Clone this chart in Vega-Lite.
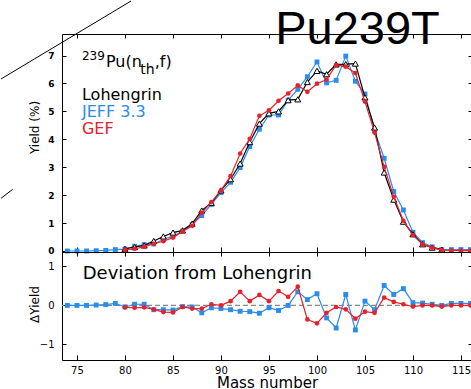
{
  "$schema": "https://vega.github.io/schema/vega-lite/v6.json",
  "padding": 0,
  "spacing": 0,
  "bounds": "flush",
  "config": {
    "font": "DejaVu Sans",
    "view": {"stroke": "black", "strokeWidth": 1},
    "axis": {"grid": false, "domain": false, "tickColor": "black", "tickWidth": 1, "labelColor": "black", "titleColor": "black", "labelFont": "DejaVu Sans", "titleFont": "DejaVu Sans", "titleFontWeight": "normal"}
  },
  "datasets": {
    "one": [{}],
    "lohengrin": [
      {"mass": 80, "y": 0.08}, {"mass": 81, "y": 0.14}, {"mass": 82, "y": 0.20}, {"mass": 83, "y": 0.36},
      {"mass": 84, "y": 0.52}, {"mass": 85, "y": 0.66}, {"mass": 86, "y": 0.74}, {"mass": 87, "y": 0.98},
      {"mass": 88, "y": 1.45}, {"mass": 89, "y": 1.72}, {"mass": 90, "y": 2.17}, {"mass": 91, "y": 2.57},
      {"mass": 92, "y": 3.13}, {"mass": 93, "y": 3.90}, {"mass": 94, "y": 4.56}, {"mass": 95, "y": 4.93},
      {"mass": 96, "y": 5.00}, {"mass": 97, "y": 5.40}, {"mass": 98, "y": 5.43}, {"mass": 99, "y": 6.05},
      {"mass": 100, "y": 6.45}, {"mass": 101, "y": 6.33}, {"mass": 102, "y": 6.68}, {"mass": 103, "y": 6.69},
      {"mass": 104, "y": 6.71}, {"mass": 105, "y": 5.50}, {"mass": 106, "y": 4.42}, {"mass": 107, "y": 2.81},
      {"mass": 108, "y": 1.84}, {"mass": 109, "y": 1.05}, {"mass": 110, "y": 0.60}, {"mass": 111, "y": 0.24},
      {"mass": 112, "y": 0.12}, {"mass": 113, "y": 0.05}
    ],
    "jeff": [
      {"mass": 74, "y": 0.0}, {"mass": 75, "y": 0.0}, {"mass": 76, "y": 0.0}, {"mass": 77, "y": 0.01},
      {"mass": 78, "y": 0.02}, {"mass": 79, "y": 0.05}, {"mass": 80, "y": 0.07}, {"mass": 81, "y": 0.17},
      {"mass": 82, "y": 0.23}, {"mass": 83, "y": 0.25}, {"mass": 84, "y": 0.41}, {"mass": 85, "y": 0.54},
      {"mass": 86, "y": 0.71}, {"mass": 87, "y": 0.95}, {"mass": 88, "y": 1.27}, {"mass": 89, "y": 1.67},
      {"mass": 90, "y": 2.09}, {"mass": 91, "y": 2.46}, {"mass": 92, "y": 2.99}, {"mass": 93, "y": 3.74},
      {"mass": 94, "y": 4.36}, {"mass": 95, "y": 4.87}, {"mass": 96, "y": 4.87}, {"mass": 97, "y": 5.40},
      {"mass": 98, "y": 5.79}, {"mass": 99, "y": 6.24}, {"mass": 100, "y": 6.77}, {"mass": 101, "y": 6.02},
      {"mass": 102, "y": 6.11}, {"mass": 103, "y": 6.98}, {"mass": 104, "y": 6.08}, {"mass": 105, "y": 5.62},
      {"mass": 106, "y": 4.32}, {"mass": 107, "y": 3.32}, {"mass": 108, "y": 2.13}, {"mass": 109, "y": 1.47},
      {"mass": 110, "y": 0.67}, {"mass": 111, "y": 0.30}, {"mass": 112, "y": 0.15}, {"mass": 113, "y": 0.05},
      {"mass": 114, "y": 0.05}, {"mass": 115, "y": 0.05}, {"mass": 116, "y": 0.05}
    ],
    "gef": [
      {"mass": 80, "y": 0.04}, {"mass": 81, "y": 0.08}, {"mass": 82, "y": 0.15}, {"mass": 83, "y": 0.26},
      {"mass": 84, "y": 0.35}, {"mass": 85, "y": 0.48}, {"mass": 86, "y": 0.70}, {"mass": 87, "y": 0.90},
      {"mass": 88, "y": 1.37}, {"mass": 89, "y": 1.75}, {"mass": 90, "y": 2.17}, {"mass": 91, "y": 2.68},
      {"mass": 92, "y": 3.49}, {"mass": 93, "y": 4.02}, {"mass": 94, "y": 4.84}, {"mass": 95, "y": 5.04},
      {"mass": 96, "y": 5.38}, {"mass": 97, "y": 5.64}, {"mass": 98, "y": 5.93}, {"mass": 99, "y": 5.70},
      {"mass": 100, "y": 5.99}, {"mass": 101, "y": 6.14}, {"mass": 102, "y": 6.66}, {"mass": 103, "y": 6.60},
      {"mass": 104, "y": 6.37}, {"mass": 105, "y": 5.35}, {"mass": 106, "y": 4.24}, {"mass": 107, "y": 3.01},
      {"mass": 108, "y": 1.94}, {"mass": 109, "y": 1.08}, {"mass": 110, "y": 0.57}, {"mass": 111, "y": 0.24},
      {"mass": 112, "y": 0.12}, {"mass": 113, "y": 0.03}, {"mass": 114, "y": 0.02}, {"mass": 115, "y": 0.01},
      {"mass": 116, "y": 0.01}
    ],
    "devJeff": [
      {"mass": 74, "d": 0.0}, {"mass": 75, "d": 0.0}, {"mass": 76, "d": 0.0}, {"mass": 77, "d": 0.01},
      {"mass": 78, "d": 0.02}, {"mass": 79, "d": 0.05}, {"mass": 80, "d": -0.04}, {"mass": 81, "d": 0.03},
      {"mass": 82, "d": 0.03}, {"mass": 83, "d": -0.11}, {"mass": 84, "d": -0.11}, {"mass": 85, "d": -0.12},
      {"mass": 86, "d": -0.03}, {"mass": 87, "d": -0.04}, {"mass": 88, "d": -0.19}, {"mass": 89, "d": -0.06},
      {"mass": 90, "d": -0.08}, {"mass": 91, "d": -0.11}, {"mass": 92, "d": -0.15}, {"mass": 93, "d": -0.16},
      {"mass": 94, "d": -0.20}, {"mass": 95, "d": -0.06}, {"mass": 96, "d": -0.13}, {"mass": 97, "d": 0.0},
      {"mass": 98, "d": 0.35}, {"mass": 99, "d": 0.15}, {"mass": 100, "d": 0.30}, {"mass": 101, "d": -0.32},
      {"mass": 102, "d": -0.58}, {"mass": 103, "d": 0.28}, {"mass": 104, "d": -0.63}, {"mass": 105, "d": 0.11},
      {"mass": 106, "d": -0.11}, {"mass": 107, "d": 0.51}, {"mass": 108, "d": 0.28}, {"mass": 109, "d": 0.43},
      {"mass": 110, "d": 0.07}, {"mass": 111, "d": 0.06}, {"mass": 112, "d": 0.03}, {"mass": 113, "d": 0.0},
      {"mass": 114, "d": 0.05}, {"mass": 115, "d": 0.05}, {"mass": 116, "d": 0.05}
    ],
    "devGef": [
      {"mass": 80, "d": -0.05}, {"mass": 81, "d": -0.06}, {"mass": 82, "d": -0.05}, {"mass": 83, "d": -0.10},
      {"mass": 84, "d": -0.17}, {"mass": 85, "d": -0.18}, {"mass": 86, "d": -0.04}, {"mass": 87, "d": -0.08},
      {"mass": 88, "d": -0.08}, {"mass": 89, "d": 0.03}, {"mass": 90, "d": 0.0}, {"mass": 91, "d": 0.11},
      {"mass": 92, "d": 0.35}, {"mass": 93, "d": 0.11}, {"mass": 94, "d": 0.27}, {"mass": 95, "d": 0.11},
      {"mass": 96, "d": 0.37}, {"mass": 97, "d": 0.22}, {"mass": 98, "d": 0.48}, {"mass": 99, "d": -0.36},
      {"mass": 100, "d": -0.46}, {"mass": 101, "d": -0.19}, {"mass": 102, "d": -0.04}, {"mass": 103, "d": -0.10},
      {"mass": 104, "d": -0.34}, {"mass": 105, "d": -0.16}, {"mass": 106, "d": -0.19}, {"mass": 107, "d": 0.20},
      {"mass": 108, "d": 0.09}, {"mass": 109, "d": 0.03}, {"mass": 110, "d": -0.03}, {"mass": 111, "d": 0.0},
      {"mass": 112, "d": 0.0}, {"mass": 113, "d": -0.03}, {"mass": 114, "d": 0.0}, {"mass": 115, "d": 0.0},
      {"mass": 116, "d": 0.0}
    ]
  },
  "vconcat": [
    {
      "width": 410,
      "height": 218,
      "resolve": {"axis": {"x": "independent", "y": "independent"}},
      "layer": [
        {
          "data": {"name": "jeff"},
          "mark": {"type": "line", "color": "#2B8CEB", "strokeWidth": 1.2},
          "encoding": {
            "x": {"field": "mass", "type": "quantitative", "scale": {"domain": [73.44, 116.15], "nice": false, "zero": false},
                  "axis": {"orient": "bottom", "values": [75, 80, 85, 90, 95, 100, 105, 110, 115], "labels": false, "tickSize": -5, "title": null}},
            "y": {"field": "y", "type": "quantitative", "scale": {"domain": [-0.036, 7.77], "nice": false, "zero": false},
                  "axis": {"orient": "left", "values": [0, 1, 2, 3, 4, 5, 6, 7], "tickSize": -4, "labelPadding": 12, "labelFontSize": 9, "labelFontWeight": "bold", "title": "Yield (%)", "titleFontSize": 12, "titleX": -21, "titleY": 93}}
          }
        },
        {
          "data": {"name": "jeff"},
          "mark": {"type": "square", "color": "#2B8CEB", "size": 24, "opacity": 1},
          "encoding": {
            "x": {"field": "mass", "type": "quantitative", "axis": null},
            "y": {"field": "y", "type": "quantitative", "axis": null}
          }
        },
        {
          "data": {"name": "lohengrin"},
          "mark": {"type": "line", "color": "black", "strokeWidth": 1.2},
          "encoding": {
            "x": {"field": "mass", "type": "quantitative",
                  "axis": {"orient": "top", "values": [75, 80, 85, 90, 95, 100, 105, 110, 115], "labels": false, "tickSize": -4, "title": null}},
            "y": {"field": "y", "type": "quantitative",
                  "axis": {"orient": "right", "values": [0, 1, 2, 3, 4, 5, 6, 7], "labels": false, "tickSize": -4, "title": null}}
          }
        },
        {
          "data": {"name": "lohengrin"},
          "mark": {"type": "point", "shape": "triangle-up", "size": 36, "filled": true, "fill": "white", "stroke": "black", "strokeWidth": 1, "opacity": 1},
          "encoding": {
            "x": {"field": "mass", "type": "quantitative", "axis": null},
            "y": {"field": "y", "type": "quantitative", "axis": null}
          }
        },
        {
          "data": {"name": "gef"},
          "mark": {"type": "line", "color": "#E8202A", "strokeWidth": 1.2},
          "encoding": {
            "x": {"field": "mass", "type": "quantitative", "axis": null},
            "y": {"field": "y", "type": "quantitative", "axis": null}
          }
        },
        {
          "data": {"name": "gef"},
          "mark": {"type": "circle", "color": "#E8202A", "size": 22, "opacity": 1},
          "encoding": {
            "x": {"field": "mass", "type": "quantitative", "axis": null},
            "y": {"field": "y", "type": "quantitative", "axis": null}
          }
        },
        {
          "data": {"name": "one"},
          "mark": {"type": "rule", "color": "black", "strokeWidth": 1},
          "encoding": {
            "x": {"datum": 67.09, "type": "quantitative", "axis": null},
            "y": {"datum": 6.16, "type": "quantitative", "axis": null},
            "x2": {"datum": 80.63},
            "y2": {"datum": 8.95}
          }
        },
        {
          "data": {"name": "one"},
          "mark": {"type": "rule", "color": "black", "strokeWidth": 1},
          "encoding": {
            "x": {"datum": 67.09, "type": "quantitative", "axis": null},
            "y": {"datum": 1.886, "type": "quantitative", "axis": null},
            "x2": {"datum": 68.3},
            "y2": {"datum": 2.209}
          }
        },
        {
          "data": {"name": "one"},
          "mark": {"type": "text", "text": "Pu239T", "font": "Liberation Sans", "fontSize": 47, "align": "center", "baseline": "alphabetic", "color": "black"},
          "encoding": {
            "x": {"datum": 104.22, "type": "quantitative", "axis": null},
            "y": {"datum": 7.42, "type": "quantitative", "axis": null}
          }
        },
        {
          "data": {"name": "one"},
          "mark": {"type": "text", "text": "239", "fontSize": 12, "align": "left", "baseline": "alphabetic", "color": "black"},
          "encoding": {
            "x": {"datum": 75.52, "type": "quantitative", "axis": null},
            "y": {"datum": 6.83, "type": "quantitative", "axis": null}
          }
        },
        {
          "data": {"name": "one"},
          "mark": {"type": "text", "text": "Pu(n", "fontSize": 16, "align": "left", "baseline": "alphabetic", "color": "black"},
          "encoding": {
            "x": {"datum": 78.02, "type": "quantitative", "axis": null},
            "y": {"datum": 6.6, "type": "quantitative", "axis": null}
          }
        },
        {
          "data": {"name": "one"},
          "mark": {"type": "text", "text": "th", "fontSize": 14, "align": "left", "baseline": "alphabetic", "color": "black"},
          "encoding": {
            "x": {"datum": 81.6, "type": "quantitative", "axis": null},
            "y": {"datum": 6.35, "type": "quantitative", "axis": null}
          }
        },
        {
          "data": {"name": "one"},
          "mark": {"type": "text", "text": ",f)", "fontSize": 16, "align": "left", "baseline": "alphabetic", "color": "black"},
          "encoding": {
            "x": {"datum": 83.1, "type": "quantitative", "axis": null},
            "y": {"datum": 6.6, "type": "quantitative", "axis": null}
          }
        },
        {
          "data": {"name": "one"},
          "mark": {"type": "text", "text": "Lohengrin", "fontSize": 16, "align": "left", "baseline": "alphabetic", "color": "black"},
          "encoding": {
            "x": {"datum": 75.52, "type": "quantitative", "axis": null},
            "y": {"datum": 5.407, "type": "quantitative", "axis": null}
          }
        },
        {
          "data": {"name": "one"},
          "mark": {"type": "text", "text": "JEFF 3.3", "fontSize": 16, "align": "left", "baseline": "alphabetic", "color": "#2B8CEB"},
          "encoding": {
            "x": {"datum": 75.52, "type": "quantitative", "axis": null},
            "y": {"datum": 4.8, "type": "quantitative", "axis": null}
          }
        },
        {
          "data": {"name": "one"},
          "mark": {"type": "text", "text": "GEF", "fontSize": 16, "align": "left", "baseline": "alphabetic", "color": "#E8202A"},
          "encoding": {
            "x": {"datum": 75.52, "type": "quantitative", "axis": null},
            "y": {"datum": 4.18, "type": "quantitative", "axis": null}
          }
        }
      ]
    },
    {
      "width": 410,
      "height": 108,
      "resolve": {"axis": {"x": "independent", "y": "independent"}},
      "layer": [
        {
          "data": {"name": "one"},
          "mark": {"type": "rule", "color": "#888888", "strokeWidth": 1.3, "strokeDash": [5, 3]},
          "encoding": {
            "y": {"datum": 0, "type": "quantitative", "scale": {"domain": [-1.4, 1.37], "nice": false, "zero": false}, "axis": null}
          }
        },
        {
          "data": {"name": "devJeff"},
          "mark": {"type": "line", "color": "#2B8CEB", "strokeWidth": 1.2},
          "encoding": {
            "x": {"field": "mass", "type": "quantitative", "scale": {"domain": [73.44, 116.15], "nice": false, "zero": false},
                  "axis": {"orient": "bottom", "values": [75, 80, 85, 90, 95, 100, 105, 110, 115], "tickSize": -5, "labelPadding": 10, "labelFontSize": 10, "title": "Mass number", "titleFontSize": 15, "titleBaseline": "alphabetic", "titleY": 27}},
            "y": {"field": "d", "type": "quantitative",
                  "axis": {"orient": "left", "values": [-1, 0, 1], "tickSize": -4, "labelPadding": 12, "labelFontSize": 10, "title": "ΔYield", "titleFontSize": 12, "titleX": -21, "titleY": 52}}
          }
        },
        {
          "data": {"name": "devJeff"},
          "mark": {"type": "square", "color": "#2B8CEB", "size": 24, "opacity": 1},
          "encoding": {
            "x": {"field": "mass", "type": "quantitative",
                  "axis": {"orient": "top", "values": [75, 80, 85, 90, 95, 100, 105, 110, 115], "labels": false, "tickSize": -4, "title": null}},
            "y": {"field": "d", "type": "quantitative",
                  "axis": {"orient": "right", "values": [-1, 0, 1], "labels": false, "tickSize": -4, "title": null}}
          }
        },
        {
          "data": {"name": "devGef"},
          "mark": {"type": "line", "color": "#E8202A", "strokeWidth": 1.2},
          "encoding": {
            "x": {"field": "mass", "type": "quantitative", "axis": null},
            "y": {"field": "d", "type": "quantitative", "axis": null}
          }
        },
        {
          "data": {"name": "devGef"},
          "mark": {"type": "circle", "color": "#E8202A", "size": 22, "opacity": 1},
          "encoding": {
            "x": {"field": "mass", "type": "quantitative", "axis": null},
            "y": {"field": "d", "type": "quantitative", "axis": null}
          }
        },
        {
          "data": {"name": "one"},
          "mark": {"type": "text", "text": "Deviation from Lohengrin", "fontSize": 18, "align": "left", "baseline": "alphabetic", "color": "black"},
          "encoding": {
            "x": {"datum": 75.6, "type": "quantitative", "axis": null},
            "y": {"datum": 0.67, "type": "quantitative", "axis": null}
          }
        }
      ]
    }
  ]
}
